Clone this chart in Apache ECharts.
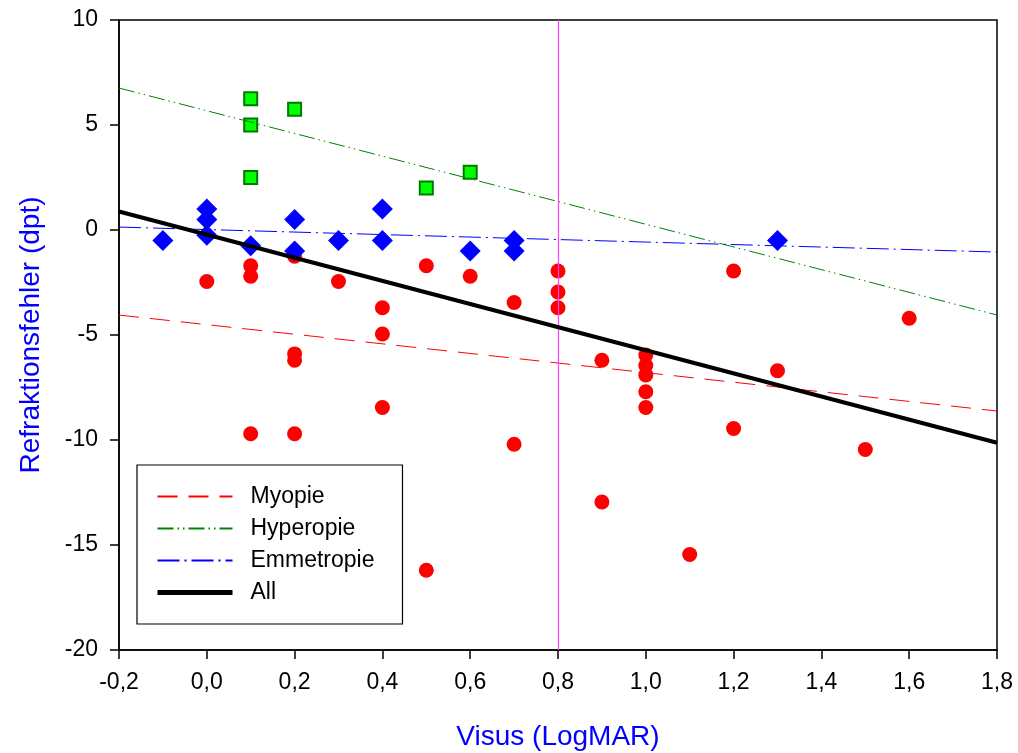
<!DOCTYPE html>
<html>
<head>
<meta charset="utf-8">
<script src="https://cdn.jsdelivr.net/npm/echarts@6/dist/echarts.min.js"></script>
<style>html,body{margin:0;padding:0;background:#fff}#c{width:1018px;height:753px}</style>
</head>
<body>
<div id="c"></div>
<script>
// ---- data ----
const myopieX = [0.0, 0.1, 0.1, 0.1, 0.2, 0.2, 0.2, 0.2, 0.3, 0.4, 0.4, 0.4, 0.5, 0.5, 0.6, 0.7, 0.7, 0.8, 0.8, 0.8, 0.9, 0.9, 1.0, 1.0, 1.0, 1.0, 1.0, 1.1, 1.2, 1.2, 1.3, 1.5, 1.6];
const myopieY = [-2.45, -1.7, -2.2, -9.7, -1.25, -5.9, -6.2, -9.7, -2.45, -3.7, -4.95, -8.45, -1.7, -16.2, -2.2, -3.45, -10.2, -1.95, -2.95, -3.7, -6.2, -12.95, -5.95, -6.45, -6.9, -7.7, -8.45, -15.45, -1.95, -9.45, -6.7, -10.45, -4.2];
const emmX = [-0.1, 0.0, 0.0, 0.0, 0.1, 0.2, 0.2, 0.3, 0.4, 0.4, 0.6, 0.7, 0.7, 1.3];
const emmY = [-0.5, 1.0, 0.5, -0.25, -0.75, 0.5, -1.0, -0.5, 1.0, -0.5, -1.0, -0.5, -1.0, -0.5];
const hypX = [0.1, 0.1, 0.1, 0.2, 0.5, 0.6];
const hypY = [6.25, 5.0, 2.5, 5.75, 2.0, 2.75];
// regression lines: values at the two ends of the x range
const fitX = [-0.2, 1.8];
const myopieFit = [-4.05, -8.62];
const hypFit = [6.76, -4.05];
const emmFit = [0.14, -1.05];
const allFit = [0.88, -10.13];
const cutoffX = 0.8;
const xTicks = { min: -0.2, max: 1.8, step: 0.2 };
const yTicks = { min: -20, max: 10, step: 5 };
const seriesNames = ['Myopie', 'Hyperopie', 'Emmetropie', 'All'];
const xTitle = 'Visus (LogMAR)';
const yTitle = 'Refraktionsfehler (dpt)';

const zip = (a, b) => a.map((v, i) => [v, b[i]]);
const FONT = 'Liberation Sans, Arial, sans-serif';

const chart = echarts.init(document.getElementById('c'), null, { renderer: 'canvas' });
chart.setOption({
  animation: false,
  backgroundColor: '#fff',
  textStyle: { fontFamily: FONT },
  grid: { left: 119, top: 20, right: 21, bottom: 103, outerBoundsMode: 'none', containLabel: false,
    show: true, borderColor: '#000', borderWidth: 1.5, backgroundColor: 'transparent' },
  legend: {
    orient: 'vertical', left: 137, top: 465,
    backgroundColor: '#fff',
    borderColor: '#000', borderWidth: 1.2, borderRadius: 0,
    padding: [20, 28, 20, 18],
    itemWidth: 75, itemHeight: 14, itemGap: 9,
    itemStyle: { opacity: 0 },
    textStyle: { fontSize: 23, color: '#000', fontFamily: FONT, padding: [0, 0, 0, 13] },
    data: seriesNames.map((n, i) => i === 3 ? { name: n, lineStyle: { width: 5 } } : n)
  },
  xAxis: {
    type: 'value', min: xTicks.min, max: xTicks.max, interval: xTicks.step,
    name: xTitle, nameLocation: 'middle', nameGap: 73,
    nameTextStyle: { color: '#0000ff', fontSize: 28, fontFamily: FONT },
    axisLine: { show: true, onZero: false, lineStyle: { color: '#000', width: 1.5 } },
    axisTick: { show: true, inside: false, length: 9, lineStyle: { color: '#000', width: 1.5 } },
    splitLine: { show: false },
    axisLabel: { color: '#000', fontSize: 23, margin: 21, fontFamily: FONT,
      formatter: v => (Math.round(v * 10) / 10).toFixed(1).replace('.', ',') }
  },
  yAxis: {
    type: 'value', min: yTicks.min, max: yTicks.max, interval: yTicks.step,
    name: yTitle, nameLocation: 'middle', nameGap: 74, nameRotate: 90,
    nameTextStyle: { color: '#0000ff', fontSize: 28, fontFamily: FONT },
    axisLine: { show: true, onZero: false, lineStyle: { color: '#000', width: 1.5 } },
    axisTick: { show: true, inside: false, length: 9, lineStyle: { color: '#000', width: 1.5 } },
    splitLine: { show: false },
    axisLabel: { color: '#000', fontSize: 23, margin: 21, fontFamily: FONT }
  },
  series: [
    {
      type: 'scatter', name: 'myo-pts', data: zip(myopieX, myopieY),
      symbol: 'circle', symbolSize: 15, itemStyle: { color: '#ff0000', opacity: 1 }, z: 2,
      markLine: {
        silent: true, symbol: 'none', label: { show: false },
        lineStyle: { color: '#ff40ff', width: 1.2, type: 'solid' },
        data: [{ xAxis: cutoffX }]
      }
    },
    {
      type: 'scatter', name: 'emm-pts', data: zip(emmX, emmY),
      symbol: 'diamond', symbolSize: [21, 21], itemStyle: { color: '#0000ff', opacity: 1 }, z: 3
    },
    {
      type: 'scatter', name: 'hyp-pts', data: zip(hypX, hypY),
      symbol: 'rect', symbolSize: 13, itemStyle: { color: '#00ff00', borderColor: '#007a00', borderWidth: 2, opacity: 1 }, z: 3
    },
    {
      type: 'line', name: seriesNames[0], data: zip(fitX, myopieFit), showSymbol: false, symbol: 'none', z: 4,
      lineStyle: { color: '#ff0000', width: 1, type: [20, 11] }, itemStyle: { color: '#ff0000' }
    },
    {
      type: 'line', name: seriesNames[1], data: zip(fitX, hypFit), showSymbol: false, symbol: 'none', z: 4,
      lineStyle: { color: '#008000', width: 1, type: [16, 4, 1.5, 4, 1.5, 4] }, itemStyle: { color: '#008000' }
    },
    {
      type: 'line', name: seriesNames[2], data: zip(fitX, emmFit), showSymbol: false, symbol: 'none', z: 4,
      lineStyle: { color: '#0000ff', width: 1, type: [22, 5, 2, 5] }, itemStyle: { color: '#0000ff' }
    },
    {
      type: 'line', name: seriesNames[3], data: zip(fitX, allFit), showSymbol: false, symbol: 'none', z: 5,
      lineStyle: { color: '#000', width: 4 }, itemStyle: { color: '#000' }
    }
  ]
});
</script>
</body>
</html>
